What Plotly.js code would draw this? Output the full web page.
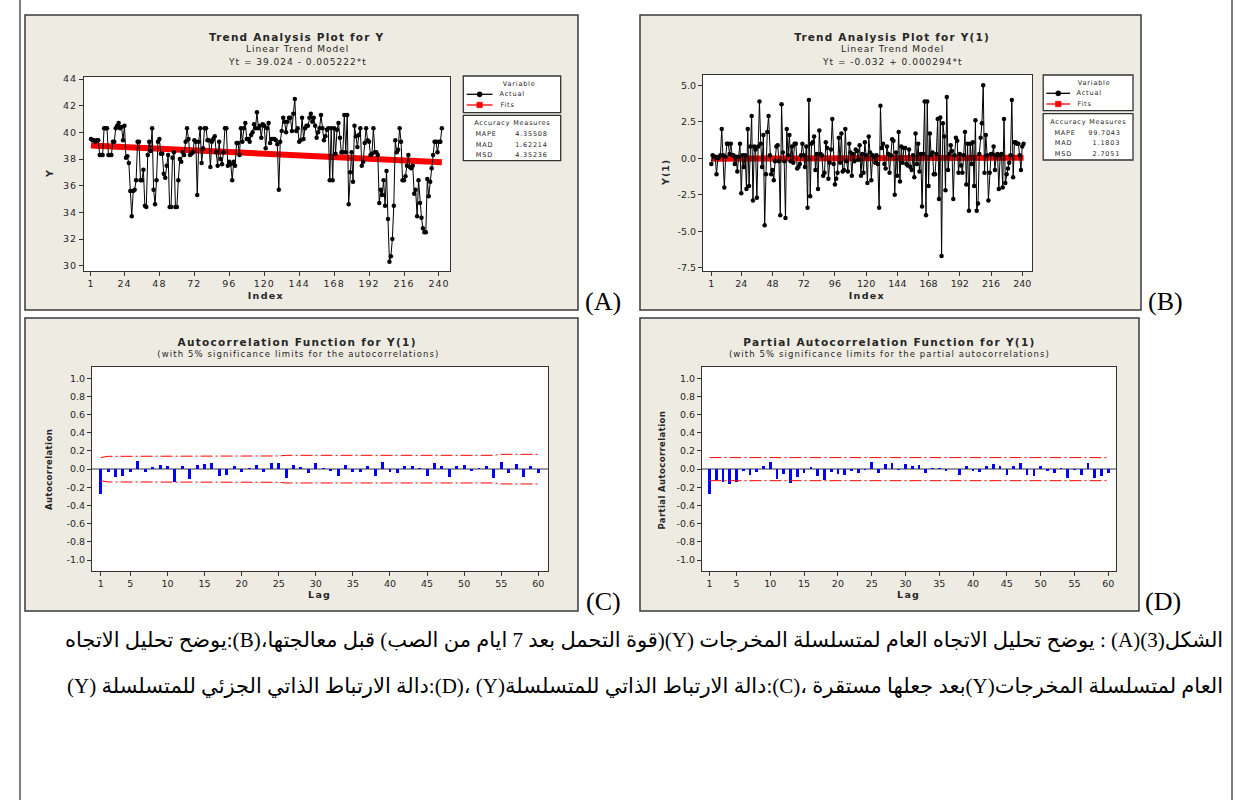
<!DOCTYPE html>
<html>
<head>
<meta charset="utf-8">
<script src="https://cdn.plot.ly/plotly-3.0.1.min.js"></script>
<style>
html, body { margin: 0; padding: 0; background: #ffffff; }
#chart { width: 1235px; height: 800px; }
#chart .xtick text, #chart .ytick text { letter-spacing: 1px; }
</style>
</head>
<body>
<div id="chart"></div>
<script>
// ---------------- DATA ----------------
// Panel A: series Y (242 observations)
const seriesY = [
  39.5, 39.4, 39.4, 39.3, 39.4, 39.4, 38.3, 38.3, 38.3, 40.3,
  40.3, 40.3, 38.3, 38.3, 38.3, 39.3, 39.3, 40.3, 40.5, 40.7,
  40.3, 40.4, 39.4, 40.5, 38.1, 38.2, 37.7, 35.6, 33.7, 35.6,
  35.7, 36.4, 39.3, 39.3, 36.4, 36.4, 37.2, 34.5, 34.4, 38.3,
  39.3, 38.6, 40.3, 35.7, 34.6, 36.4, 39.3, 39.5, 38.4, 38.4,
  36.9, 36.6, 37.5, 38.3, 34.4, 34.4, 38.1, 38.5, 34.4, 34.4,
  36.4, 38.0, 37.8, 38.5, 38.3, 39.3, 40.3, 39.5, 38.3, 38.4,
  38.5, 39.4, 39.3, 35.3, 39.3, 40.3, 37.7, 38.8, 40.3, 40.3,
  39.4, 39.4, 37.4, 39.3, 39.5, 39.7, 38.5, 37.5, 39.3, 38.0,
  37.6, 38.5, 40.3, 40.3, 37.5, 37.8, 37.6, 36.4, 37.8, 37.5,
  39.2, 39.2, 38.3, 40.3, 39.3, 40.3, 40.7, 39.5, 39.5, 39.3,
  39.8, 40.0, 40.6, 40.3, 41.5, 40.3, 40.5, 39.6, 40.6, 40.5,
  38.8, 40.3, 40.7, 39.2, 39.5, 39.5, 39.5, 39.4, 39.1, 35.7,
  39.3, 40.1, 41.1, 40.8, 40.0, 40.8, 41.1, 41.1, 40.1, 41.4,
  42.5, 40.1, 40.3, 39.3, 39.4, 41.1, 39.5, 40.3, 40.5, 40.5,
  41.1, 41.4, 40.8, 41.1, 40.5, 39.6, 40.0, 40.3, 41.3, 40.3,
  39.4, 39.7, 40.2, 40.3, 36.4, 40.3, 36.4, 40.3, 38.4, 40.2,
  40.7, 39.6, 38.5, 38.5, 41.3, 38.5, 41.3, 34.6, 37.0, 38.5,
  36.3, 40.5, 39.7, 38.9, 39.8, 40.3, 37.5, 37.8, 39.2, 40.3,
  39.4, 39.3, 38.3, 38.4, 40.3, 38.5, 38.5, 38.3, 34.7, 35.7,
  35.3, 36.4, 34.5, 37.1, 33.5, 30.3, 30.7, 32.0, 34.5, 39.4,
  38.5, 38.7, 40.3, 39.3, 36.4, 36.4, 36.7, 37.5, 38.3, 37.4,
  37.3, 37.5, 35.4, 35.7, 33.7, 36.4, 34.7, 33.6, 32.8, 32.5,
  32.5, 36.5, 35.2, 36.3, 37.3, 38.3, 39.3, 39.3, 38.5, 39.3,
  39.3, 40.3
];
// Linear trend fit for Y (end points of the fitted line)
const fitIndexY = [1, 242];
const fitValuesY = [39.02, 37.76];

// Panel B: differenced series Y(1) (241 observations)
const seriesY1 = [
  -0.4, 0.2, 0.1, 0.1, -1.1, 0.0, 0.1, 0.2, 2.0, 0.2,
  -2.0, 0.1, 1.0, 1.0, 0.3, 1.0, 0.2, 0.2, -0.4, 0.1,
  -0.9, 0.1, 1.0, -2.4, 0.2, -0.6, 0.2, -2.1, 2.0, -1.9,
  0.8, 2.9, -2.9, 0.8, 0.6, -2.7, 0.8, 3.9, 1.0, -0.6,
  1.6, -4.6, -1.1, 1.8, 2.9, 0.2, -1.1, -0.8, -1.5, -0.2,
  0.8, 0.9, -0.2, -3.9, 3.7, 0.4, -0.2, -4.1, 2.0, 0.2,
  1.6, -0.2, 0.8, -0.3, 1.0, 1.0, -0.7, -0.6, -0.4, 0.2,
  1.0, 0.2, -0.6, 0.8, -3.4, 4.0, -2.6, 1.0, 1.1, 1.5,
  -0.8, 0.3, -2.1, 1.9, 0.3, 0.2, -1.2, -1.0, 1.1, 0.7,
  -1.4, -0.3, 0.6, 2.7, -0.4, -1.8, -1.4, -1.0, 1.4, -0.3,
  1.7, -0.9, -0.8, 2.0, -0.2, -0.9, 1.0, 0.4, -1.2, 0.3,
  -0.2, 0.6, 0.5, -0.1, 0.9, -1.2, 0.3, -1.0, 1.1, 0.2,
  -1.7, 1.5, 0.4, -1.5, 0.2, 0.1, -0.3, 0.2, -0.4, -3.4,
  3.6, 0.7, 1.0, -0.4, -0.7, 0.8, 0.3, -1.0, 0.2, 1.3,
  1.2, -2.5, 0.4, -1.2, 1.8, -1.6, 0.8, -0.3, 0.7, 0.7,
  -0.4, -0.5, 0.6, -0.6, -0.8, 0.2, -1.3, 1.7, -0.4, 1.0,
  -0.9, 0.3, -3.3, 0.3, 3.9, -3.9, 3.9, -1.9, 1.7, 0.2,
  0.4, -1.1, -1.1, 0.3, 2.7, -2.8, 2.8, -6.7, 2.4, 1.5,
  -2.2, 4.2, -0.8, 0.3, 0.9, 0.5, -2.8, 0.2, 1.4, 1.2,
  -1.0, 0.3, -0.5, -1.0, 0.2, 1.8, -1.8, 1.0, -3.6, 1.0,
  -0.4, 1.1, -1.9, 2.6, -3.6, -3.1, 0.3, 1.4, 2.4, 5.0,
  -1.0, 1.6, 0.2, -2.9, -1.0, 0.3, 0.3, 0.8, -0.8, 0.2,
  0.3, -2.1, 0.2, 0.3, -2.0, 2.7, -1.7, -1.1, -0.7, -0.3,
  0.2, 4.0, -1.3, 1.1, 1.1, 1.0, 1.0, 0.2, -0.8, 0.8,
  1.0
];
const fitIndexY1 = [1, 241];
const fitValuesY1 = [-0.032, 0.039];

// Panel C: autocorrelation function of Y(1), lags 1..60
const acfValues = [
  -0.275, -0.035, -0.085, -0.080, -0.035, 0.085, -0.030, 0.020, 0.045, 0.040,
  -0.145, 0.030, -0.110, 0.045, 0.060, 0.070, -0.075, -0.060, 0.040, -0.030,
  0.010, 0.050, -0.030, 0.070, 0.070, -0.100, 0.045, 0.020, -0.040, 0.070,
  0.015, -0.020, -0.075, 0.045, -0.030, -0.030, 0.030, -0.070, 0.080, -0.030,
  -0.040, 0.030, 0.030, 0.015, -0.075, 0.070, 0.030, -0.085, 0.030, 0.045,
  -0.020, 0.010, 0.030, -0.100, 0.075, -0.040, 0.060, -0.085, 0.030, -0.040
];
// 5% significance limit (upper; lower is its negative), per lag
const acfLimits = [
  0.128, 0.141, 0.141, 0.141, 0.141, 0.141, 0.141, 0.141, 0.141, 0.141,
  0.141, 0.145, 0.145, 0.145, 0.145, 0.145, 0.145, 0.145, 0.145, 0.145,
  0.145, 0.145, 0.145, 0.145, 0.145, 0.152, 0.152, 0.152, 0.152, 0.152,
  0.152, 0.152, 0.152, 0.152, 0.152, 0.152, 0.152, 0.152, 0.152, 0.152,
  0.152, 0.152, 0.152, 0.152, 0.152, 0.152, 0.152, 0.152, 0.152, 0.152,
  0.152, 0.152, 0.152, 0.152, 0.163, 0.163, 0.163, 0.163, 0.163, 0.163
];

// Panel D: partial autocorrelation function of Y(1), lags 1..60
const pacfValues = [
  -0.275, -0.120, -0.145, -0.160, -0.145, -0.020, -0.060, -0.035, 0.035, 0.075,
  -0.110, -0.050, -0.150, -0.085, -0.040, 0.020, -0.070, -0.120, -0.030, -0.050,
  -0.060, -0.020, -0.040, -0.005, 0.075, -0.045, 0.055, 0.070, -0.010, 0.060,
  0.035, 0.045, -0.045, 0.010, 0.010, -0.025, 0.005, -0.065, 0.040, -0.020,
  -0.035, 0.040, 0.060, 0.030, -0.060, 0.030, 0.070, -0.060, -0.070, 0.040,
  -0.020, -0.045, 0.010, -0.095, -0.010, -0.060, 0.070, -0.095, -0.070, -0.040
];
const pacfLimitLags = [1, 60];
const pacfLimitValues = [0.127, 0.127];

// Tick labels
const indexTicks = [1, 24, 48, 72, 96, 120, 144, 168, 192, 216, 240];
const yTicksA = [30, 32, 34, 36, 38, 40, 42, 44];
const yTicksB = [-7.5, -5.0, -2.5, 0.0, 2.5, 5.0];
const lagTicks = [1, 5, 10, 15, 20, 25, 30, 35, 40, 45, 50, 55, 60];
const corrTicks = [-1.0, -0.8, -0.6, -0.4, -0.2, 0.0, 0.2, 0.4, 0.6, 0.8, 1.0];

const accuracyA = [['MAPE', '4.35508'], ['MAD', '1.62214'], ['MSD', '4.35236']];
const accuracyB = [['MAPE', '99.7043'], ['MAD', '1.1803'], ['MSD', '2.7051']];

const captionLine1 = 'الشكل(3)(A) : يوضح تحليل الاتجاه العام لمتسلسلة المخرجات (Y)(قوة التحمل بعد 7 ايام من الصب) قبل معالجتها،(B):يوضح تحليل الاتجاه';
const captionLine2 = 'العام لمتسلسلة المخرجات(Y)بعد جعلها مستقرة ،(C):دالة الارتباط الذاتي للمتسلسلة(Y) ،(D):دالة الارتباط الذاتي الجزئي للمتسلسلة (Y)';

// ---------------- LAYOUT HELPERS ----------------
const W = 1235, H = 800;
const px = x => x / W;
const py = y => 1 - y / H;
const FONT = 'DejaVu Sans, Verdana, sans-serif';
const INK = '#262626';
const PANEL_BG = '#EEEBE2';

const annotations = [];
const spacing = [];   // letter-spacing per annotation (CSS)
const shapes = [];

function txt(x, y, text, size, opts, ls) {
  annotations.push(Object.assign({
    xref: 'paper', yref: 'paper', x: px(x), y: py(y), text: text,
    showarrow: false, xanchor: 'center', yanchor: 'middle',
    font: { family: FONT, size: size, color: INK }
  }, opts || {}));
  spacing.push(ls === undefined ? 1.1 : ls);
}
function rectPx(x0, y0, x1, y1, fill, lineColor, lineWidth) {
  shapes.push({
    type: 'rect', xref: 'paper', yref: 'paper', layer: 'below',
    x0: px(x0), x1: px(x1), y0: py(y1), y1: py(y0),
    fillcolor: fill, line: { color: lineColor, width: lineWidth }
  });
}
function rectAbove(x0, y0, x1, y1, fill, lineColor, lineWidth) {
  shapes.push({
    type: 'rect', xref: 'paper', yref: 'paper', layer: 'above',
    x0: px(x0), x1: px(x1), y0: py(y1), y1: py(y0),
    fillcolor: fill, line: { color: lineColor, width: lineWidth }
  });
}
function lineAbove(x0, y0, x1, y1, color, width) {
  shapes.push({
    type: 'line', xref: 'paper', yref: 'paper', layer: 'above',
    x0: px(x0), x1: px(x1), y0: py(y0), y1: py(y1),
    line: { color: color, width: width }
  });
}

function xAxis(l, r, range, tickvals, anchor) {
  return {
    domain: [px(l), px(r)], range: range, anchor: anchor,
    tickmode: 'array', tickvals: tickvals, ticktext: tickvals.map(String),
    ticks: 'outside', ticklen: 4, tickwidth: 1, tickcolor: '#333',
    showline: true, linecolor: '#333', linewidth: 1, mirror: true,
    showgrid: false, zeroline: false, fixedrange: true,
    tickfont: { family: FONT, size: 9.5, color: INK }
  };
}
function yAxis(top, bottom, range, tickvals, anchor, fmt, zero) {
  return {
    domain: [py(bottom), py(top)], range: range, anchor: anchor,
    tickmode: 'array', tickvals: tickvals,
    ticktext: tickvals.map(v => fmt ? v.toFixed(fmt) : String(v)),
    ticks: 'outside', ticklen: 4, tickwidth: 1, tickcolor: '#333',
    showline: true, linecolor: '#333', linewidth: 1, mirror: true,
    showgrid: false, zeroline: !!zero, zerolinecolor: '#9a9a9a', zerolinewidth: 2,
    fixedrange: true,
    tickfont: { family: FONT, size: 9.5, color: INK }
  };
}

// Panel frames (beige)
rectPx(25, 15, 578, 310, PANEL_BG, '#3a3a3a', 1.5);
rectPx(640, 15, 1141, 310, PANEL_BG, '#3a3a3a', 1.5);
rectPx(25, 318, 578, 611, PANEL_BG, '#3a3a3a', 1.5);
rectPx(640, 318, 1139, 611, PANEL_BG, '#3a3a3a', 1.5);
// White plot areas
[['x', 'y'], ['x2', 'y2'], ['x3', 'y3'], ['x4', 'y4']].forEach(([xa, ya]) => {
  shapes.push({ type: 'rect', xref: xa + ' domain', yref: ya + ' domain', layer: 'below',
    x0: 0, x1: 1, y0: 0, y1: 1, fillcolor: '#ffffff', line: { width: 0 } });
});
// outer page borders
shapes.push({ type: 'line', xref: 'paper', yref: 'paper', x0: px(20), x1: px(20), y0: 0, y1: 1, line: { color: '#000', width: 1 } });
shapes.push({ type: 'line', xref: 'paper', yref: 'paper', x0: px(1232), x1: px(1232), y0: 0, y1: 1, line: { color: '#000', width: 1 } });

// Legend + accuracy boxes
function legendBlock(L, R, T, B, aT, aB, acc) {
  const w = R - L;
  const LS = 0.8;
  rectAbove(L, T, R, B, '#ffffff', '#333', 1.3);
  rectAbove(L, aT, R, aB, '#ffffff', '#333', 1.3);
  txt(L + 0.57 * w, T + 8, 'Variable', 6.5, null, LS);
  const lx0 = L + 0.035 * w, lx1 = L + 0.3 * w, mx = (lx0 + lx1) / 2;
  const r1 = T + 18.3, r2 = T + 29;
  lineAbove(lx0, r1, lx1, r1, '#000', 1.3);
  shapes.push({ type: 'circle', xref: 'paper', yref: 'paper', layer: 'above',
    x0: px(mx - 2.6), x1: px(mx + 2.6), y0: py(r1 + 2.6), y1: py(r1 - 2.6),
    fillcolor: '#000', line: { color: '#000', width: 0.5 } });
  lineAbove(lx0, r2, lx1, r2, '#ff0000', 1.3);
  rectAbove(mx - 2.8, r2 - 2.8, mx + 2.8, r2 + 2.8, '#ff0000', '#ff0000', 0.5);
  txt(L + 0.375 * w, r1, 'Actual', 6.5, { xanchor: 'left' }, LS);
  txt(L + 0.375 * w, r2, 'Fits', 6.5, { xanchor: 'left' }, LS);
  txt((L + R) / 2, aT + 8, 'Accuracy Measures', 6.5, null, LS);
  const rows = [aT + 19, aT + 29.6, aT + 40.2];
  acc.forEach((a, i) => {
    txt(L + 0.115 * w, rows[i], a[0], 6.5, { xanchor: 'left' }, LS);
    txt(L + 0.86 * w, rows[i], a[1], 6.5, { xanchor: 'right' }, LS);
  });
}
legendBlock(463.3, 560.7, 76, 112.7, 115.3, 160.7, accuracyA);
legendBlock(1043.2, 1133, 75, 110.7, 113.7, 160, accuracyB);

// Titles
txt(297, 36.5, '<b>Trend Analysis Plot for Y</b>', 10.5, null, 1.2);
txt(297, 49, 'Linear Trend Model', 9, null, 1.0);
txt(297, 61.5, 'Yt = 39.024 - 0.005222*t', 9, null, 1.0);
txt(266, 295, '<b>Index</b>', 9.5, null, 1.3);
txt(49, 174, '<b>Y</b>', 9.5, { textangle: -90 }, 0);

txt(892, 36.5, '<b>Trend Analysis Plot for Y(1)</b>', 10.5, null, 1.2);
txt(892, 49, 'Linear Trend Model', 9, null, 1.0);
txt(892, 61.5, 'Yt = -0.032 + 0.000294*t', 9, null, 1.0);
txt(867, 295, '<b>Index</b>', 9.5, null, 1.3);
txt(665, 173, '<b>Y(1)</b>', 9.5, { textangle: -90 }, 1.0);

txt(297, 342, '<b>Autocorrelation Function for Y(1)</b>', 10.5, null, 1.3);
txt(298, 354, '(with 5% significance limits for the autocorrelations)', 8.5, null, 1.1);
txt(319, 594, '<b>Lag</b>', 9.5, null, 1.3);
txt(49, 470, '<b>Autocorrelation</b>', 8.5, { textangle: -90 }, 0.4);

txt(889, 342, '<b>Partial Autocorrelation Function for Y(1)</b>', 10.5, null, 1.3);
txt(889, 354, '(with 5% significance limits for the partial autocorrelations)', 8.5, null, 1.1);
txt(908, 594, '<b>Lag</b>', 9.5, null, 1.3);
txt(662, 470, '<b>Partial Autocorrelation</b>', 8.5, { textangle: -90 }, 0.4);

// Panel labels
const SERIF = 'Liberation Serif, Times New Roman, serif';
txt(603, 301, '(A)', 26, { font: { family: SERIF, size: 26, color: '#000' } }, 0);
txt(1165, 301, '(B)', 26, { font: { family: SERIF, size: 26, color: '#000' } }, 0);
txt(603, 601, '(C)', 26, { font: { family: SERIF, size: 26, color: '#000' } }, 0);
txt(1163, 601, '(D)', 26, { font: { family: SERIF, size: 26, color: '#000' } }, 0);

// Caption (Arabic, right-to-left)
const RLE = '\u202B', PDF = '\u202C';
txt(1225, 640, RLE + captionLine1 + PDF, 21, { xanchor: 'right', font: { family: 'Liberation Serif, DejaVu Sans, serif', size: 21, color: '#000' } }, 0);
txt(1225, 686, RLE + captionLine2 + PDF, 21, { xanchor: 'right', font: { family: 'Liberation Serif, DejaVu Sans, serif', size: 21, color: '#000' } }, 0);

// letter-spacing rules (applied before drawing so Plotly measures the spaced text)
(function () {
  const css = spacing.map((ls, i) =>
    '#chart g.annotation[data-index="' + i + '"] text { letter-spacing: ' + ls + 'px; }').join('\n');
  const st = document.createElement('style');
  st.textContent = css;
  document.head.appendChild(st);
})();

// ---------------- TRACES ----------------
const idx = arr => arr.map((_, i) => i + 1);
const traces = [
  { type: 'scatter', mode: 'lines', x: fitIndexY, y: fitValuesY, xaxis: 'x', yaxis: 'y',
    line: { color: '#ff0000', width: 6 }, hoverinfo: 'skip' },
  { type: 'scatter', mode: 'lines+markers', x: idx(seriesY), y: seriesY, xaxis: 'x', yaxis: 'y',
    line: { color: '#000', width: 1 }, marker: { color: '#000', size: 4.5 } },
  { type: 'scatter', mode: 'lines', x: fitIndexY1, y: fitValuesY1, xaxis: 'x2', yaxis: 'y2',
    line: { color: '#ff0000', width: 6 }, hoverinfo: 'skip' },
  { type: 'scatter', mode: 'lines+markers', x: idx(seriesY1), y: seriesY1, xaxis: 'x2', yaxis: 'y2',
    line: { color: '#000', width: 1 }, marker: { color: '#000', size: 4.5 } },
  { type: 'bar', x: idx(acfValues), y: acfValues, xaxis: 'x3', yaxis: 'y3', width: 0.4,
    marker: { color: '#0000ff', line: { width: 0 } } },
  { type: 'scatter', mode: 'lines', x: idx(acfLimits), y: acfLimits, xaxis: 'x3', yaxis: 'y3',
    line: { color: '#ff0000', width: 1, dash: '12px,3px,2px,3px' } },
  { type: 'scatter', mode: 'lines', x: idx(acfLimits), y: acfLimits.map(v => -v), xaxis: 'x3', yaxis: 'y3',
    line: { color: '#ff0000', width: 1, dash: '12px,3px,2px,3px' } },
  { type: 'bar', x: idx(pacfValues), y: pacfValues, xaxis: 'x4', yaxis: 'y4', width: 0.4,
    marker: { color: '#0000ff', line: { width: 0 } } },
  { type: 'scatter', mode: 'lines', x: pacfLimitLags, y: pacfLimitValues, xaxis: 'x4', yaxis: 'y4',
    line: { color: '#ff0000', width: 1, dash: '12px,3px,2px,3px' } },
  { type: 'scatter', mode: 'lines', x: pacfLimitLags, y: pacfLimitValues.map(v => -v), xaxis: 'x4', yaxis: 'y4',
    line: { color: '#ff0000', width: 1, dash: '12px,3px,2px,3px' } }
];

const layout = {
  width: W, height: H,
  margin: { l: 0, r: 0, t: 0, b: 0 },
  paper_bgcolor: '#ffffff', plot_bgcolor: '#ffffff',
  showlegend: false,
  bargap: 0,
  xaxis: xAxis(84, 450, [-3.8, 247.6], indexTicks, 'y'),
  yaxis: yAxis(77, 271, [29.6, 44.15], yTicksA, 'x', 0, false),
  xaxis2: xAxis(703, 1032, [-5.4, 247.5], indexTicks, 'y2'),
  yaxis2: yAxis(75, 271, [-7.73, 5.71], yTicksB, 'x2', 1, false),
  xaxis3: xAxis(92, 548, [-0.17, 61.3], lagTicks, 'y3'),
  yaxis3: yAxis(367, 571, [-1.121, 1.124], corrTicks, 'x3', 1, true),
  xaxis4: xAxis(702, 1116, [-0.11, 61.15], lagTicks, 'y4'),
  yaxis4: yAxis(367, 571, [-1.121, 1.124], corrTicks, 'x4', 1, true),
  shapes: shapes,
  annotations: annotations
};

Plotly.newPlot('chart', traces, layout, { staticPlot: true, displayModeBar: false });
</script>
</body>
</html>
